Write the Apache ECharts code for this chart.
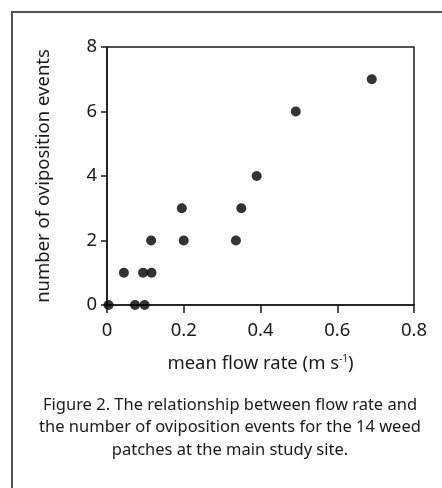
<!DOCTYPE html>
<html>
<head>
<meta charset="utf-8">
<script src="https://cdn.jsdelivr.net/npm/echarts@6/dist/echarts.min.js"></script>
<style>
html,body{margin:0;padding:0;background:#fff;}
#c{width:442px;height:488px;}
</style>
</head>
<body>
<div id="c"></div>
<script>
var flowRate = [0.004, 0.044, 0.073, 0.094, 0.098, 0.116, 0.115, 0.195, 0.200, 0.336, 0.350, 0.390, 0.492, 0.690];
var events   = [0, 1, 0, 1, 0, 1, 2, 3, 2, 2, 3, 4, 6, 7];
var xTicks = [0, 0.2, 0.4, 0.6, 0.8];
var yTicks = [0, 2, 4, 6, 8];
var captionLines = [
  'Figure 2. The relationship between flow rate and',
  'the number of oviposition events for the 14 weed',
  'patches at the main study site.'
];

var points = flowRate.map(function (x, i) { return [x, events[i]]; });
var FONT = 'Noto Sans';
var chart = echarts.init(document.getElementById('c'), null, {renderer: 'canvas'});

var graphics = [{
  type: 'rect',
  shape: {x: 12, y: 12, width: 460, height: 500},
  style: {fill: 'none', stroke: '#555', lineWidth: 2},
  silent: true
}];
captionLines.forEach(function (t, i) {
  graphics.push({
    type: 'text',
    x: 230, y: 405 + i * 22.5,
    style: {text: t, font: '16.5px "Noto Sans"', fill: '#1a1a1a', textAlign: 'center', textVerticalAlign: 'middle'},
    silent: true
  });
});

chart.setOption({
  animation: false,
  backgroundColor: '#fff',
  grid: {left: 107, right: 28, top: 47, bottom: 183, show: true, borderColor: '#1a1a1a', borderWidth: 1.5, backgroundColor: 'transparent'},
  xAxis: {
    type: 'value', min: xTicks[0], max: xTicks[xTicks.length - 1], interval: 0.2,
    name: 'mean flow rate (m s{sup|-1})', nameLocation: 'middle', nameGap: 49,
    nameTextStyle: {fontFamily: FONT, fontSize: 18.5, color: '#1a1a1a', rich: {sup: {fontFamily: FONT, fontSize: 10, color: '#1a1a1a', padding: [0, 0, 9, 0]}}},
    axisLine: {show: true, lineStyle: {color: '#1a1a1a', width: 1.5}},
    axisTick: {show: true, length: 8, lineStyle: {color: '#1a1a1a', width: 1.5}},
    axisLabel: {fontFamily: FONT, fontSize: 18.5, color: '#1a1a1a', margin: 16,
      formatter: function (v) { return xTicks.indexOf(+v.toFixed(1)) >= 0 ? String(+v.toFixed(1)) : ''; }},
    splitLine: {show: false}
  },
  yAxis: {
    type: 'value', min: yTicks[0], max: yTicks[yTicks.length - 1], interval: 2,
    name: 'number of oviposition events', nameLocation: 'middle', nameGap: 54, nameRotate: 90,
    nameTextStyle: {fontFamily: FONT, fontSize: 18.5, color: '#1a1a1a'},
    axisLine: {show: true, lineStyle: {color: '#1a1a1a', width: 1.5}},
    axisTick: {show: true, length: 6, lineStyle: {color: '#1a1a1a', width: 1.5}},
    axisLabel: {fontFamily: FONT, fontSize: 18.5, color: '#1a1a1a', margin: 10},
    splitLine: {show: false}
  },
  series: [{
    type: 'scatter',
    data: points,
    symbol: 'circle',
    symbolSize: 10,
    itemStyle: {color: '#000'},
    clip: false
  }],
  graphic: graphics
});
</script>
</body>
</html>
